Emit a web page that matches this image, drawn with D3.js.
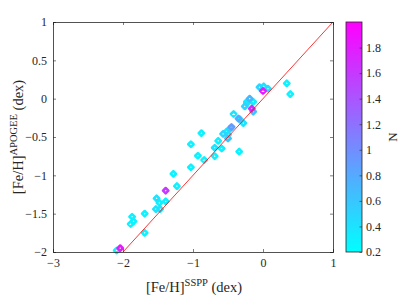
<!DOCTYPE html>
<html>
<head>
<meta charset="utf-8">
<style>
  body { margin: 0; background: #fff; }
  text { font-family: "Liberation Serif", "Times New Roman", serif; fill: #262626; }
</style>
</head>
<body>
<svg id="chart" width="415" height="300"></svg>
<script src="https://d3js.org/d3.v7.min.js"></script>
<script>
// [Fe/H] from SSPP (x), from APOGEE (y), and N for the colour
const fehSSPP = [-2.09, -2.04, -1.89, -1.85, -1.87, -1.69, -1.69, -1.53, -1.47, -1.52,
                 -1.48, -1.39, -1.39, -1.23, -1.28, -1.03, -0.93, -0.84, -1.03, -0.88,
                 -0.69, -0.69, -0.59, -0.64, -0.57, -0.50, -0.47, -0.34, -0.52, -0.45,
                 -0.42, -0.35, -0.28, -0.26, -0.23, -0.19, -0.23, -0.14, -0.16, -0.14,
                 -0.05, 0.01, 0.00, 0.07, 0.34, 0.39, -0.33, -0.50];
const fehAPOGEE = [-1.98, -1.95, -1.635, -1.60, -1.54, -1.75, -1.50, -1.44, -1.44, -1.30,
                   -1.36, -1.20, -1.34, -1.14, -0.98, -0.895, -0.745, -0.80, -0.595, -0.45,
                   -0.75, -0.64, -0.65, -0.55, -0.46, -0.52, -0.39, -0.69, -0.43, -0.37,
                   -0.20, -0.26, -0.32, -0.10, -0.06, 0.00, -0.04, -0.04, -0.13, -0.17,
                   0.15, 0.16, 0.10, 0.13, 0.20, 0.06, -0.27, -0.47];
const countN = [0.3, 1.8, 0.3, 0.3, 0.3, 0.3, 0.3, 0.4, 0.4, 0.4,
                0.3, 1.6, 0.3, 0.3, 0.3, 0.3, 0.3, 0.3, 0.3, 0.3,
                0.3, 0.4, 0.3, 0.3, 0.5, 0.6, 0.5, 0.3, 0.3, 0.9,
                0.4, 0.8, 0.4, 0.5, 0.4, 0.7, 0.3, 0.3, 1.7, 0.6,
                0.5, 0.4, 1.8, 0.4, 0.3, 0.3, 0.3, 0.4];
const xTicks = [-3, -2, -1, 0, 1];
const yTicks = [-2, -1.5, -1, -0.5, 0, 0.5, 1];
const cTicks = [0.2, 0.4, 0.6, 0.8, 1, 1.2, 1.4, 1.6, 1.8];

const svg = d3.select("#chart");
const mLeft = 53, mTop = 22, w = 280, h = 230;
const axisCol = "#262626";
const serif = "'Liberation Serif', 'Times New Roman', serif";

const x = d3.scaleLinear().domain([-3, 1]).range([mLeft, mLeft + w]);
const y = d3.scaleLinear().domain([-2, 1]).range([mTop + h, mTop]);
const color = d3.scaleLinear().domain([0.2, 2]).range(["#00ffff", "#ff00ff"]);

svg.append("clipPath").attr("id", "clip")
  .append("rect").attr("x", mLeft).attr("y", mTop).attr("width", w).attr("height", h);

// points: diamonds with thick edges, high N drawn last
const pts = fehSSPP.map((d, i) => ({x: d, y: fehAPOGEE[i], n: countN[i]}))
  .sort((a, b) => a.n - b.n);
svg.append("g")
  .selectAll("path")
  .data(pts)
  .enter()
  .append("path")
    .attr("d", d3.symbol(d3.symbolDiamond2, 18))
    .attr("transform", d => `translate(${x(d.x)},${y(d.y)})`)
    .attr("fill", "none")
    .attr("stroke", d => color(d.n))
    .attr("stroke-width", 2.6)
    .attr("stroke-linejoin", "round");

// one-to-one line
svg.append("line")
  .attr("clip-path", "url(#clip)")
  .attr("x1", x(-2)).attr("y1", y(-2))
  .attr("x2", x(1)).attr("y2", y(1))
  .attr("stroke", "#ff0000").attr("stroke-width", 0.8);

// axes (MATLAB style, ticks inward, box)
const tl = 3;
const bottomAx = d3.axisBottom(x).tickValues(xTicks).tickSize(-tl).tickPadding(6).tickFormat(d3.format("~g"));
const leftAx = d3.axisLeft(y).tickValues(yTicks).tickSize(-tl).tickPadding(6).tickFormat(d3.format("~g"));
const gx = svg.append("g").attr("transform", `translate(0,${mTop + h})`).call(bottomAx);
const gy = svg.append("g").attr("transform", `translate(${mLeft},0)`).call(leftAx);
const gxt = svg.append("g").attr("transform", `translate(0,${mTop})`)
  .call(d3.axisTop(x).tickValues(xTicks).tickSize(-tl).tickFormat(""));
const gyr = svg.append("g").attr("transform", `translate(${mLeft + w},0)`)
  .call(d3.axisRight(y).tickValues(yTicks).tickSize(-tl).tickFormat(""));
[gx, gy, gxt, gyr].forEach(g => {
  g.attr("font-family", serif).attr("font-size", 12);
  g.select(".domain").attr("stroke", axisCol).attr("stroke-width", 0.8);
  g.selectAll(".tick line").attr("stroke", axisCol).attr("stroke-width", 0.6);
  g.selectAll("text").attr("fill", axisCol);
});

// axis labels
const xl = svg.append("text").attr("x", 194).attr("y", 292).attr("text-anchor", "middle")
  .attr("font-family", serif).attr("font-size", 14.5);
xl.append("tspan").text("[Fe/H]");
xl.append("tspan").attr("dy", -6).attr("font-size", 10.5).text("SSPP");
xl.append("tspan").attr("dy", 6).text(" (dex)");

const yl = svg.append("text").attr("transform", "translate(23,137) rotate(-90)")
  .attr("text-anchor", "middle").attr("font-family", serif).attr("font-size", 14.5);
yl.append("tspan").text("[Fe/H]");
yl.append("tspan").attr("dy", -6).attr("font-size", 10.5).text("APOGEE");
yl.append("tspan").attr("dy", 6).text(" (dex)");

// colorbar
const cbX = 346, cbW = 16;
const c = d3.scaleLinear().domain([0.2, 2]).range([mTop + h, mTop]);
const grad = svg.append("defs").append("linearGradient").attr("id", "cool")
  .attr("x1", 0).attr("y1", 1).attr("x2", 0).attr("y2", 0);
grad.append("stop").attr("offset", 0).attr("stop-color", color(0.2));
grad.append("stop").attr("offset", 1).attr("stop-color", color(2));
svg.append("rect").attr("x", cbX).attr("y", mTop).attr("width", cbW).attr("height", h)
  .attr("fill", "url(#cool)").attr("stroke", axisCol).attr("stroke-width", 0.8);
const gc = svg.append("g").attr("transform", `translate(${cbX + cbW},0)`)
  .call(d3.axisRight(c).tickValues(cTicks).tickSize(-2.5).tickPadding(4).tickFormat(d3.format("~g")));
gc.attr("font-family", serif).attr("font-size", 12);
gc.select(".domain").remove();
gc.selectAll(".tick line").attr("stroke", axisCol).attr("stroke-width", 0.6);
gc.selectAll("text").attr("fill", axisCol);
svg.append("text").attr("transform", "translate(392,137) rotate(-90)")
  .attr("text-anchor", "middle").attr("dy", "0.35em")
  .attr("font-family", serif).attr("font-size", 13).text("N");
</script>
</body>
</html>
